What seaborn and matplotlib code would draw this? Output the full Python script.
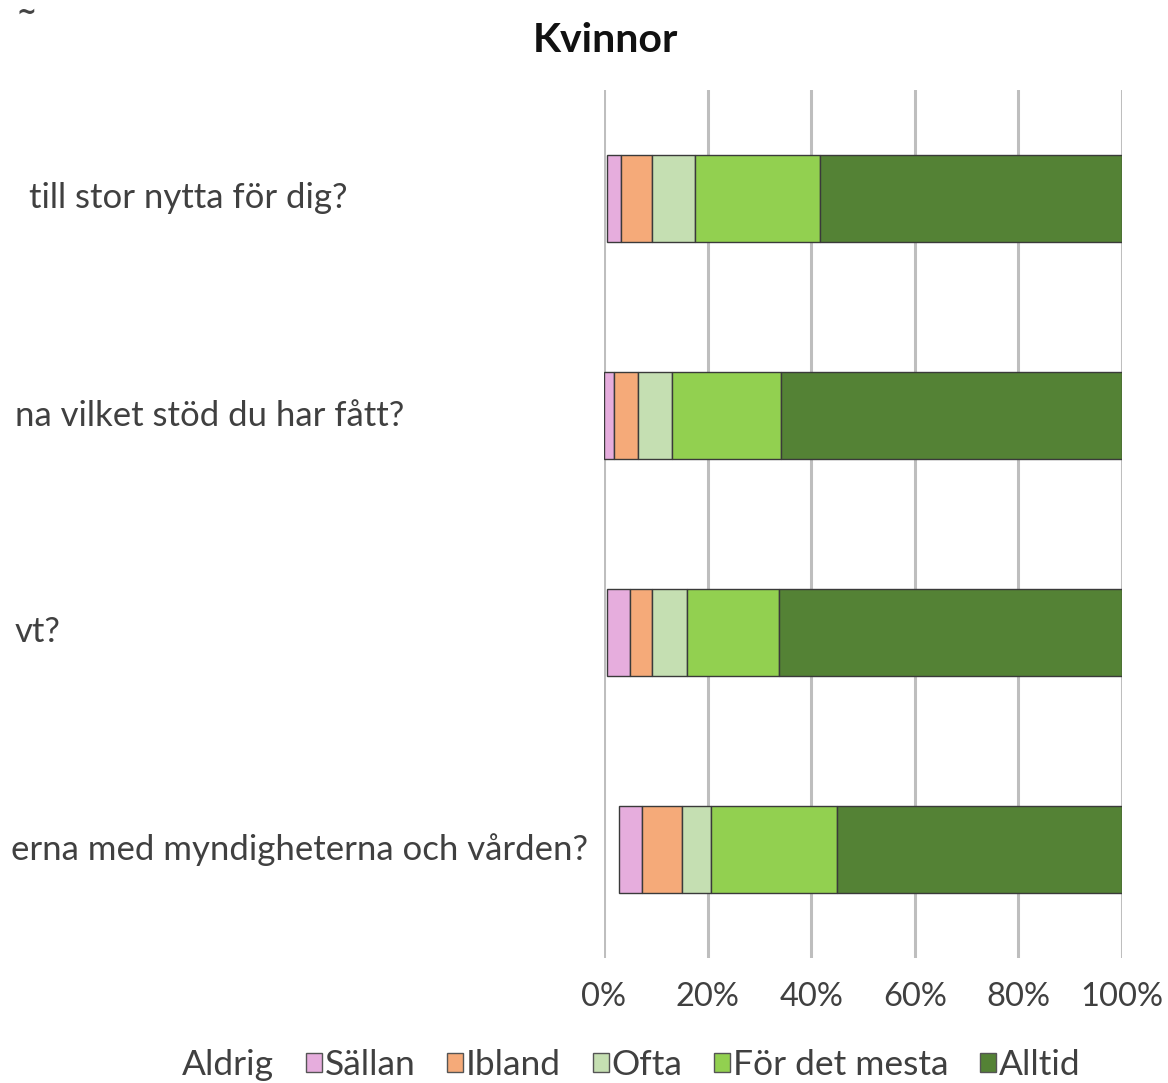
import matplotlib
matplotlib.use("Agg")
import matplotlib.pyplot as plt
import matplotlib.transforms as mtransforms
from matplotlib.patches import Patch
from matplotlib.ticker import FuncFormatter
import numpy as np
import pandas as pd
import seaborn as sns

# Survey questions (one bar each), top to bottom
questions = [
    "till stor nytta för dig?",
    "na vilket stöd du har fått?",
    "vt?",
    "erna med myndigheterna och vården?",
]

# Response levels in stacking order, with their colours
levels = ["Aldrig", "Sällan", "Ibland", "Ofta", "För det mesta", "Alltid"]
level_colors = ["none", "#E6ADDD", "#F5AA79", "#C5DFB2", "#92D050", "#548235"]

# Share of answers (%) per question for each response level
aldrig = [0.5, 0.0, 0.5, 2.8]
sallan = [2.7, 2.0, 4.6, 4.6]
ibland = [6.0, 4.6, 4.2, 7.6]
ofta = [8.4, 6.5, 6.8, 5.7]
for_det_mesta = [24.1, 21.0, 17.7, 24.3]
alltid = [58.3, 65.9, 66.2, 55.0]

series = [aldrig, sallan, ibland, ofta, for_det_mesta, alltid]

# Right edge of each question label, in axes fraction
label_right = [-0.496, -0.386, -1.050, -0.031]

x_ticks = [0, 20, 40, 60, 80, 100]

sns.set_style("white")
plt.rcParams["font.family"] = ["Lato", "DejaVu Sans"]
text_color = "#404040"

fig = plt.figure(figsize=(11.68, 10.83), dpi=100)
ax = fig.add_axes([604 / 1168, 1 - 958 / 1083, 518 / 1168, 868 / 1083])

# Stack the levels: draw each level's bars, then move them to start
# where the previous levels end
left = np.zeros(len(questions))
for name, vals, col in zip(levels, series, level_colors):
    df = pd.DataFrame({"fråga": questions, "andel": vals})
    n_before = len(ax.patches)
    if col == "none":
        sns.barplot(data=df, x="andel", y="fråga", orient="h", ax=ax,
                    width=0.4, color="white", saturation=1, fill=True,
                    linewidth=0, errorbar=None, zorder=3)
        for p in ax.patches[n_before:]:
            p.set_facecolor("none")
            p.set_edgecolor("none")
    else:
        sns.barplot(data=df, x="andel", y="fråga", orient="h", ax=ax,
                    width=0.4, color=col, saturation=1,
                    edgecolor="#3a3a3a", linewidth=1.0, errorbar=None, zorder=3)
    for p, start in zip(ax.patches[n_before:], left):
        p.set_x(start)
    left = left + np.array(vals)

ax.set_xlim(0, 100)
ax.set_ylim(len(questions) - 0.5, -0.5)
ax.set_xticks(x_ticks)
ax.xaxis.set_major_formatter(FuncFormatter(lambda v, p: f"{v:.0f}%"))
ax.tick_params(axis="x", length=0, pad=17, labelsize=23.5, labelcolor=text_color)
ax.set_yticks([])
ax.set_xlabel("")
ax.set_ylabel("")
for s in ax.spines.values():
    s.set_visible(False)
ax.grid(axis="x", color="#BEBEBE", linewidth=2.2, zorder=0)
ax.grid(axis="y", visible=False)
ax.set_axisbelow(True)

# Question labels, each right-aligned at its own edge
blend = mtransforms.blended_transform_factory(ax.transAxes, ax.transData)
for i, (q, xr) in enumerate(zip(questions, label_right)):
    ax.text(xr, i, q, transform=blend, ha="right", va="center",
            fontsize=25, color=text_color, clip_on=False)

fig.text(605 / 1168, 1 - 41 / 1083, "Kvinnor", ha="center", va="center",
         fontsize=29.5, fontweight="bold", color="#111111")
fig.text(26 / 1168, 1 - 20 / 1083, "~", ha="center", va="baseline",
         fontsize=17, fontweight="bold", color="#444444",
         family="DejaVu Sans")

handles = [Patch(facecolor=c, edgecolor=("none" if c == "none" else "#555555"),
                 linewidth=1.0) for c in level_colors]
fig.legend(handles, levels, loc="center", ncol=6,
           bbox_to_anchor=(622 / 1168, 1 - 1065 / 1083),
           frameon=False, fontsize=25.5, handlelength=0.45, handleheight=0.45,
           handletextpad=0.08, columnspacing=0.9, labelcolor=text_color)

fig.savefig("out.png", dpi=100)
